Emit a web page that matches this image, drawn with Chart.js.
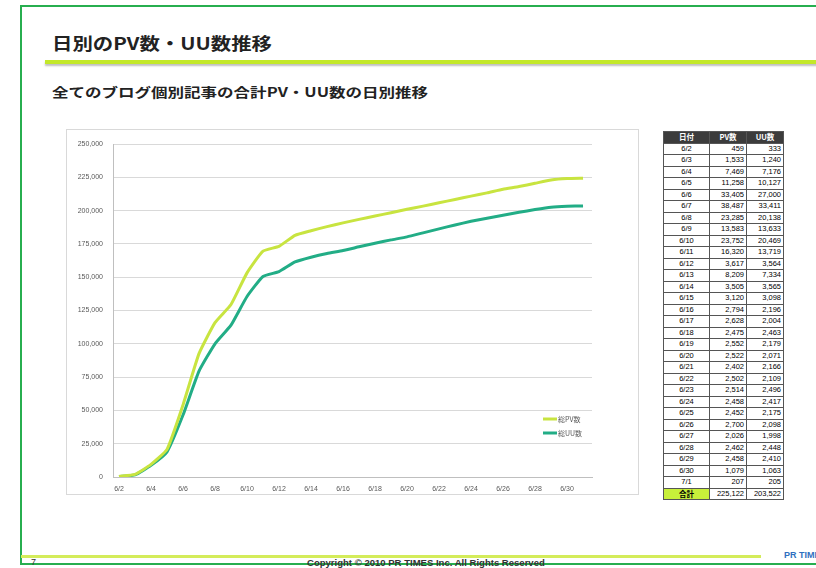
<!DOCTYPE html>
<html><head><meta charset="utf-8">
<script src="https://cdn.jsdelivr.net/npm/chart.js@4"></script>
<style>
html,body{margin:0;padding:0;background:#fff;width:816px;height:568px;overflow:hidden;font-family:"Noto Sans CJK JP","Noto Sans",sans-serif;}
.abs{position:absolute;}
#frame{left:20px;top:5px;width:820px;height:560px;border:2px solid #27ae4f;box-sizing:border-box;}
#title{left:52px;top:34px;font-size:17px;line-height:17px;font-weight:bold;color:#222;transform:scaleX(1.2);transform-origin:0 0;white-space:nowrap;}
#bar{left:45px;top:60px;width:780px;height:4px;background:#c3e82a;box-shadow:0 2px 2px rgba(0,0,0,0.25);}
#sub{left:52px;top:85px;font-size:13px;line-height:13px;font-weight:bold;color:#222;transform:scaleX(1.27);transform-origin:0 0;white-space:nowrap;}
#box{left:66px;top:129px;width:573px;height:366px;border:1px solid #d9d9d9;box-sizing:border-box;}
#c{left:66px;top:129px;}
table{position:absolute;left:663px;top:131px;border-collapse:collapse;font-family:"Liberation Sans",Arial,sans-serif;font-size:7.5px;color:#000;border:1.5px solid #333;}
td,th{border:1px solid #555;height:10.5px;padding:0 2px;line-height:10px;white-space:nowrap;}
th{background:#3c3c3c;color:#fff;font-weight:bold;font-family:"Noto Sans CJK JP",sans-serif;}
td.d{text-align:center;width:41px;}
td.n{text-align:right;width:32px;}
td.t{background:#c8f03a;font-weight:bold;text-align:center;font-family:"Noto Sans CJK JP",sans-serif;}
#fline{left:21px;top:555px;width:740px;height:3px;background:#d4ec5a;}
#pr{left:784px;top:550px;font-size:9px;font-weight:bold;color:#2f6fc0;font-family:"Liberation Sans",Arial,sans-serif;white-space:nowrap;}
#copy{left:307px;top:558px;font-size:9px;font-weight:bold;color:#333;font-family:"Liberation Sans Narrow","Liberation Sans",Arial,sans-serif;transform:scaleX(1.06);transform-origin:0 0;white-space:nowrap;}
#pg{left:31px;top:557px;font-size:9px;color:#333;font-family:"Liberation Sans",Arial,sans-serif;}
</style></head>
<body>
<div id="frame" class="abs"></div>
<div id="title" class="abs">日別のPV数・UU数推移</div>
<div id="bar" class="abs"></div>
<div id="sub" class="abs">全てのブログ個別記事の合計PV・UU数の日別推移</div>
<div id="box" class="abs"></div>
<canvas id="c" class="abs" width="573" height="366"></canvas>
<table id="tbl"></table>
<div id="fline" class="abs"></div>
<div id="pr" class="abs">PR TIMES</div>
<div id="copy" class="abs">Copyright © 2010 PR TIMES Inc. All Rights Reserved</div>
<div id="pg" class="abs">7</div>
<script>
// ---- data ----
const dates = ["6/2","6/3","6/4","6/5","6/6","6/7","6/8","6/9","6/10","6/11","6/12","6/13","6/14","6/15","6/16","6/17","6/18","6/19","6/20","6/21","6/22","6/23","6/24","6/25","6/26","6/27","6/28","6/29","6/30","7/1"];
const seriesNames = ["総PV数","総UU数"];
// cumulative values (chart lines)
const pvCumulative = [459,1992,9461,20719,54124,92611,115896,129479,153231,169551,173168,181377,184882,188002,190796,193424,195899,198451,200973,203375,205877,208391,210849,213301,216001,218027,220489,222947,224026,224233];
const uuCumulative = [333,1573,8749,18876,46500,79500,100000,114000,135500,150500,154200,161500,165000,167800,170000,172800,175500,178000,180300,183300,186300,189200,192000,194300,196500,198700,200800,202600,203300,203522];
// daily table values
const pvDaily = ["459","1,533","7,469","11,258","33,405","38,487","23,285","13,583","23,752","16,320","3,617","8,209","3,505","3,120","2,794","2,628","2,475","2,552","2,522","2,402","2,502","2,514","2,458","2,452","2,700","2,026","2,462","2,458","1,079","207"];
const uuDaily = ["333","1,240","7,176","10,127","27,000","33,411","20,138","13,633","20,469","13,719","3,564","7,334","3,565","3,098","2,196","2,004","2,463","2,179","2,071","2,166","2,109","2,496","2,417","2,175","2,098","1,998","2,448","2,410","1,063","205"];
const tableHeader = ["日付","PV数","UU数"];
const totalLabel = "合計";
const totals = ["225,122","203,522"];
const yTicks = {min:0, max:250000, step:25000};

// ---- table ----
(function(){
  const t = document.getElementById('tbl');
  let h = '<tr>' + tableHeader.map(s=>'<th>'+s+'</th>').join('') + '</tr>';
  dates.forEach((d,i)=>{ h += '<tr><td class="d">'+d+'</td><td class="n">'+pvDaily[i]+'</td><td class="n">'+uuDaily[i]+'</td></tr>'; });
  h += '<tr><td class="t">'+totalLabel+'</td><td class="n">'+totals[0]+'</td><td class="n">'+totals[1]+'</td></tr>';
  t.innerHTML = h;
})();

// ---- chart ----
const colors = ["#c8e440","#22ad86"];
const legendPlugin = {
  id:'inlegend',
  afterDatasetsDraw(chart){
    const ctx = chart.ctx, a = chart.chartArea;
    chart.data.datasets.forEach((ds,i)=>{
      const y = a.bottom - 58 + i*14;
      const x1 = a.right - 49, x2 = a.right - 35;
      ctx.save();
      ctx.strokeStyle = ds.borderColor; ctx.lineWidth = 3;
      ctx.beginPath(); ctx.moveTo(x1,y); ctx.lineTo(x2,y); ctx.stroke();
      ctx.fillStyle = '#595959'; ctx.font = '7px "Noto Sans CJK JP", sans-serif';
      ctx.textBaseline = 'middle'; ctx.textAlign = 'left';
      ctx.fillText(ds.label, x2 + 1, y);
      ctx.restore();
    });
  }
};
new Chart(document.getElementById('c'), {
  type:'line',
  data:{
    datasets:[
      {label:seriesNames[0], data:pvCumulative.map((v,i)=>({x:i,y:v})), borderColor:colors[0], backgroundColor:colors[0], borderWidth:3, pointRadius:0, tension:0.15},
      {label:seriesNames[1], data:uuCumulative.map((v,i)=>({x:i,y:v})), borderColor:colors[1], backgroundColor:colors[1], borderWidth:3, pointRadius:0, tension:0.15}
    ]
  },
  options:{
    responsive:false, animation:false, devicePixelRatio:1,
    layout:{padding:{top:15,right:47,left:0,bottom:0}},
    plugins:{legend:{display:false}, tooltip:{enabled:false}},
    scales:{
      x:{type:'linear', min:-0.375, max:29.56,
        grid:{display:false, drawTicks:false},
        border:{display:true,color:'#bfbfbf'},
        ticks:{stepSize:2, includeBounds:false, autoSkip:false, maxRotation:0, padding:8, color:'#595959', font:{size:7, family:'"Liberation Sans", Arial, sans-serif'},
          callback:(v)=>dates[v]},
        afterBuildTicks:(s)=>{ s.ticks = s.ticks.filter(t=>Number.isInteger(t.value) && t.value>=0 && t.value%2===0 && t.value<dates.length); },
        afterFit:(s)=>{ s.height = 18; }
      },
      y:{min:yTicks.min, max:yTicks.max,
        grid:{color:'#d9d9d9', drawTicks:false},
        border:{display:true,color:'#bfbfbf'},
        ticks:{stepSize:yTicks.step, padding:10, color:'#595959', font:{size:7, family:'"Liberation Sans", Arial, sans-serif'},
          callback:(v)=>v.toLocaleString('en-US')},
        afterFit:(s)=>{ s.width = 47; }
      }
    }
  },
  plugins:[legendPlugin]
});
</script>
</body></html>
